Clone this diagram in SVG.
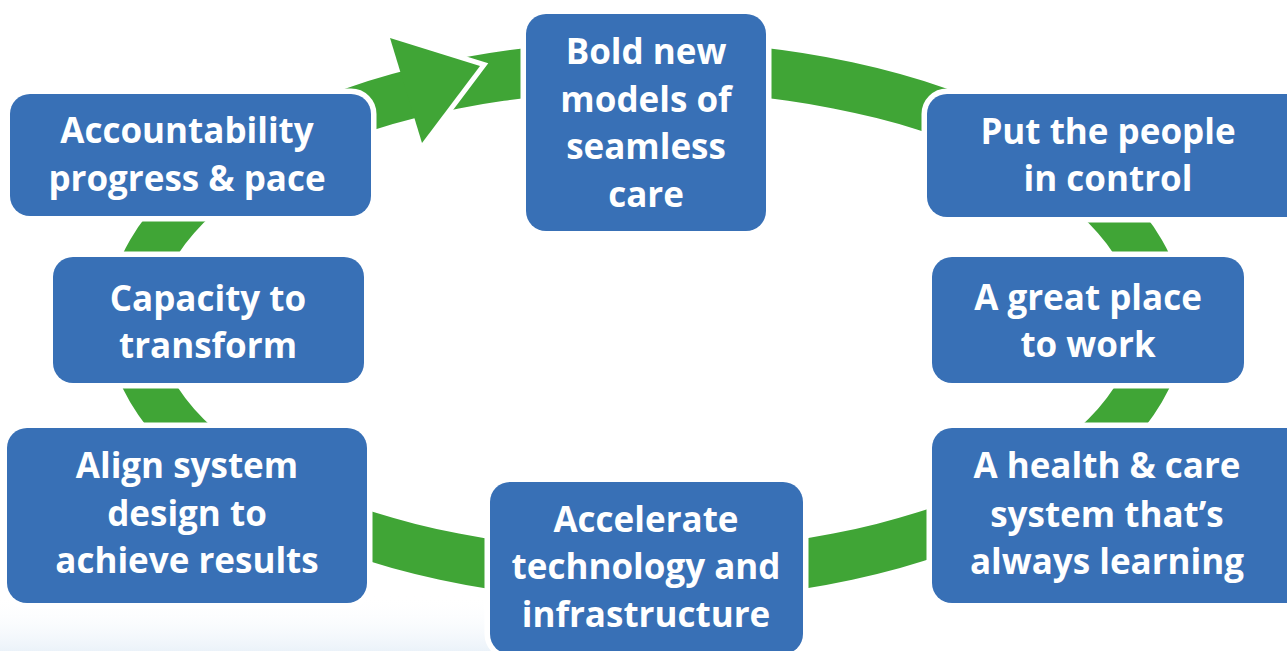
<svg xmlns="http://www.w3.org/2000/svg" width="1287" height="651" viewBox="0 0 1287 651">
  <defs>
    <linearGradient id="fade" x1="0" y1="0" x2="0" y2="1">
      <stop offset="0" stop-color="#ffffff" stop-opacity="0"/>
      <stop offset="1" stop-color="#e6eff8" stop-opacity="0.8"/>
    </linearGradient>
  </defs>
  <style>
    .box { fill: #3870b6; stroke: #ffffff; stroke-width: 11; paint-order: stroke; }
    .lbl { fill: #ffffff; font-family: "Open Sans", "Liberation Sans", sans-serif; font-weight: 700; font-size: 35px; text-anchor: middle; }
    .ring { fill: #40a536; fill-rule: evenodd; }
  </style>
  <rect x="0" y="0" width="1287" height="651" fill="#ffffff"/>
  <rect x="0" y="595" width="560" height="56" fill="url(#fade)"/>

  <g id="connectors">
    <path class="ring" d="M107,321 A539,280 0 1 0 1185,321 A539,280 0 1 0 107,321 Z M157,321 A489,230 0 1 0 1135,321 A489,230 0 1 0 157,321 Z"/>
    <polyline points="390,38 480,66 422,143" fill="none" stroke="#ffffff" stroke-width="10" stroke-linejoin="miter" stroke-miterlimit="10"/>
    <polygon points="390,38 480,66 422,143" fill="#40a536"/>
  </g>

  <g id="node-bold">
    <rect class="box" x="526" y="14" width="240" height="217" rx="20"/>
    <text class="lbl" x="646" y="64">Bold new</text>
    <text class="lbl" x="646" y="112">models of</text>
    <text class="lbl" x="646" y="159">seamless</text>
    <text class="lbl" x="646" y="207">care</text>
  </g>
  <g id="node-people">
    <rect class="box" x="927" y="94" width="380" height="123" rx="20"/>
    <text class="lbl" x="1108" y="144">Put the people</text>
    <text class="lbl" x="1108" y="191">in control</text>
  </g>
  <g id="node-work">
    <rect class="box" x="932" y="257" width="312" height="126" rx="20"/>
    <text class="lbl" x="1088" y="310">A great place</text>
    <text class="lbl" x="1088" y="357">to work</text>
  </g>
  <g id="node-learning">
    <rect class="box" x="932" y="428" width="375" height="175" rx="20"/>
    <text class="lbl" x="1107" y="478">A health &amp; care</text>
    <text class="lbl" x="1107" y="527">system that’s</text>
    <text class="lbl" x="1107" y="574">always learning</text>
  </g>
  <g id="node-technology">
    <rect class="box" x="490" y="482" width="313" height="172" rx="20"/>
    <text class="lbl" x="646" y="532">Accelerate</text>
    <text class="lbl" x="646" y="579">technology and</text>
    <text class="lbl" x="646" y="627">infrastructure</text>
  </g>
  <g id="node-align">
    <rect class="box" x="7" y="428" width="360" height="175" rx="20"/>
    <text class="lbl" x="187" y="478">Align system</text>
    <text class="lbl" x="187" y="526">design to</text>
    <text class="lbl" x="187" y="573">achieve results</text>
  </g>
  <g id="node-capacity">
    <rect class="box" x="53" y="257" width="311" height="126" rx="20"/>
    <text class="lbl" x="208" y="311">Capacity to</text>
    <text class="lbl" x="208" y="358">transform</text>
  </g>
  <g id="node-accountability">
    <rect class="box" x="10" y="94" width="361" height="122" rx="20"/>
    <text class="lbl" x="187" y="143">Accountability</text>
    <text class="lbl" x="187" y="191">progress &amp; pace</text>
  </g>
</svg>
